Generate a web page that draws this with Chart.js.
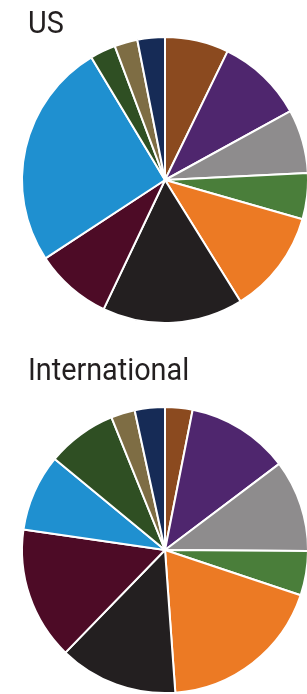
<!DOCTYPE html>
<html>
<head>
<meta charset="utf-8">
<script src="https://cdn.jsdelivr.net/npm/chart.js@4/dist/chart.umd.min.js"></script>
<style>
  html, body { margin: 0; padding: 0; background: #fff; }
  body { width: 307px; height: 694px; position: relative; overflow: hidden; }
  .box { position: absolute; left: 0; width: 309px; }
  #b1 { top: 0; height: 340px; }
  #b2 { top: 340px; height: 354px; }
  .ttl {
    position: absolute; left: 28px; margin: 0;
    font-family: Roboto, sans-serif; font-weight: 400; font-size: 32px; line-height: 32px;
    color: #231F20; white-space: nowrap;
    transform: scaleX(0.9); transform-origin: left top;
  }
  #t1 { top: 6px; }
  #t2 { top: 353px; }
</style>
</head>
<body>
<div class="box" id="b1"><canvas id="c1"></canvas></div>
<div class="box" id="b2"><canvas id="c2"></canvas></div>
<div class="ttl" id="t1"></div>
<div class="ttl" id="t2"></div>
<script>
// Categories (unnamed in the reference; listed clockwise from 12 o'clock)
const categories = ['Cat 1','Cat 2','Cat 3','Cat 4','Cat 5','Cat 6','Cat 7','Cat 8','Cat 9','Cat 10','Cat 11'];
const sliceColors = ['#8B4A1F','#4F266E','#8E8C8D','#4A7E3A','#EC7A24','#231F20','#4D0B26','#1F90D0','#2F4F23','#7E6D44','#162B56'];

// Shares (%)
const usValues   = [7.2, 9.8, 7.2, 5.2, 11.7, 15.9, 8.7, 25.6, 2.9, 2.6, 3.1];
const intlValues = [3.1, 11.6, 10.4, 5.0, 18.7, 13.4, 15.0, 8.7, 7.9, 2.7, 3.4];

const titles = ['US', 'International'];
document.getElementById('t1').textContent = titles[0];
document.getElementById('t2').textContent = titles[1];

function makePie(id, values, layoutPad) {
  return new Chart(document.getElementById(id), {
    type: 'pie',
    data: {
      labels: categories,
      datasets: [{
        data: values,
        backgroundColor: sliceColors,
        borderColor: '#ffffff',
        borderWidth: 2,
        hoverOffset: 0
      }]
    },
    options: {
      responsive: true,
      maintainAspectRatio: false,
      animation: false,
      layout: { padding: layoutPad },
      plugins: {
        legend: { display: false },
        tooltip: { enabled: false },
        title: { display: false }
      }
    }
  });
}

makePie('c1', usValues,   { left: 21, right: 0, top: 36, bottom: 16 });
makePie('c2', intlValues, { left: 21, right: 0, top: 66, bottom: 0 });
</script>
</body>
</html>
